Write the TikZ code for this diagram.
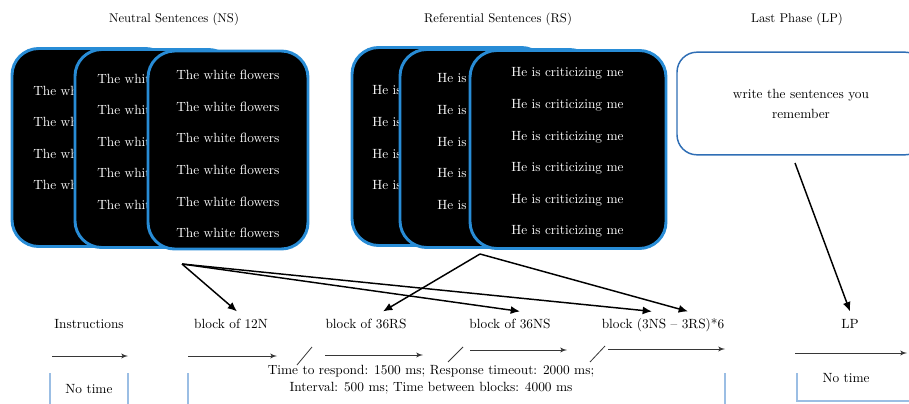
\documentclass[tikz,border=0pt]{standalone}
\usetikzlibrary{shapes,arrows,arrows.meta,positioning}
\definecolor{cardblue}{RGB}{40,140,214}
\definecolor{boxblue}{RGB}{47,110,181}
\definecolor{cellblue}{RGB}{155,190,228}
\definecolor{tlgray}{RGB}{55,55,55}
\newcommand*{\wf}{The white flowers}
\newcommand*{\hc}{He is criticizing me}

\begin{document}
\begin{tikzpicture}[x=0.75pt, y=-0.75pt,
    card_ns/.style ={rectangle, rounded corners=20pt, draw=cardblue, line width=2.2pt, fill=black,
      outer sep=0pt, minimum width=120pt, minimum height=148.5pt},
    card_rs/.style ={card_ns, minimum width=147pt},
    card_lines/.style ={text=white, inner sep=0pt, align=left, font=\fontsize{10pt}{23.7pt}\selectfont},
    block_phase/.style ={rectangle, rounded corners=15pt, draw=boxblue, line width=1.1pt, fill=white,
      minimum width=186pt, minimum height=77pt, align=center, font=\fontsize{10pt}{15pt}\selectfont},
    block_title/.style ={font=\fontsize{9.5pt}{11pt}\selectfont},
    block_step/.style ={font=\normalsize, text height=7pt, text depth=2pt, inner ysep=5.5pt},
    block_cell/.style ={align=center, font=\fontsize{10pt}{12.75pt}\selectfont},
    cell_line/.style ={draw=cellblue, line width=0.8pt},
    break_mark/.style ={draw=tlgray, line width=0.6pt},
    time_line/.style ={draw=tlgray, line width=0.75pt, -latex'},
    line/.style ={draw, line width=1.1pt, -{Latex[length=7pt,width=6pt]}, shorten >=0pt}]
    \useasboundingbox (0,0) rectangle (909,403);
    \clip (0,0) rectangle (909,403);
    % neutral sentences
    \node [block_title] (nstitle) at (174,19) {Neutral Sentences (NS)};
    \node [card_ns] (ns1) at (92,147.5) {};
    \node [card_lines, below right=27.75pt and 15.75pt of ns1.north west] (ns1text) {\wf\\ \wf\\ \wf\\ \wf};
    \node [card_ns] (ns2) at (155,148.5) {};
    \node [card_lines, below right=18pt and 16.5pt of ns2.north west] (ns2text) {\wf\\ \wf\\ \wf\\ \wf\\ \wf};
    \node [card_ns] (ns3) at (228,150) {};
    \node [card_lines, below right=14.25pt and 21pt of ns3.north west] (ns3text) {\wf\\ \wf\\ \wf\\ \wf\\ \wf\\ \wf};
    % referential sentences
    \node [block_title] (rstitle) at (498,19) {Referential Sentences (RS)};
    \node [card_rs] (rs1) at (450,146.5) {};
    \node [card_lines, below right=28.5pt and 15pt of rs1.north west] (rs1text) {\hc\\ \hc\\ \hc\\ \hc};
    \node [card_rs] (rs2) at (498,148.5) {};
    \node [card_lines, below right=18pt and 27.75pt of rs2.north west] (rs2text) {\hc\\ \hc\\ \hc\\ \hc\\ \hc};
    \node [card_rs] (rs3) at (568,149.5) {};
    \node [card_lines, below right=12.75pt and 30.75pt of rs3.north west] (rs3text) {\hc\\ \hc\\ \hc\\ \hc\\ \hc\\ \hc};
    % last phase
    \node [block_title] (lptitle) at (797,19) {Last Phase (LP)};
    \node [block_phase] (lpbox) at (801,103.5) {write the sentences you\\ remember};
    % row of steps
    \node [block_step] (instr) at (89,325) {Instructions};
    \node [block_step] (blk12) at (231,325) {block of 12N};
    \node [block_step] (rs36) at (366,325) {block of 36RS};
    \node [block_step] (ns36) at (510,325) {block of 36NS};
    \node [block_step] (mixed) at (663,325) {block (3NS -- 3RS)*6};
    \node [block_step] (lp) at (850,325) {LP};
    % row of times
    \node [block_cell] (notime1) at (89,389) {No time};
    \node [block_cell] (timing) at (431,380) {Time to respond: 1500 ms; Response timeout: 2000 ms;\\
      Interval: 500 ms; Time between blocks: 4000 ms};
    \node [block_cell] (notime2) at (846,378) {No time};
    \draw [cell_line] (50,373) -- (50,410);
    \draw [cell_line] (128,373) -- (128,410);
    \draw [cell_line] (188,373) -- (188,410);
    \draw [cell_line] (725,373) -- (725,410);
    \draw [cell_line] (797,373) |- (915,401);
    % timeline
    \coordinate (ta1) at (52,356);  \coordinate (tb1) at (128,356);
    \coordinate (ta2) at (188,356); \coordinate (tb2) at (277,356);
    \coordinate (ta3) at (325,355); \coordinate (tb3) at (423,355);
    \coordinate (ta4) at (470,350); \coordinate (tb4) at (567,350);
    \coordinate (ta5) at (608,349); \coordinate (tb5) at (725,349);
    \coordinate (ta6) at (795,353); \coordinate (tb6) at (907,353);
    \draw [break_mark] (297,365) -- (312,347);
    \draw [break_mark] (448,362) -- (463,347);
    \draw [break_mark] (590,362) -- (605,346);
    % sources of the arrows
    \coordinate (nsout) at (182,264);
    \coordinate (rsout) at (480,254);
    \coordinate (lpout) at (795,163);
    % connecting nodes with paths
    \begin{scope}[every path/.style=time_line]
      \path (ta1) -- (tb1);
      \path (ta2) -- (tb2);
      \path (ta3) -- (tb3);
      \path (ta4) -- (tb4);
      \path (ta5) -- (tb5);
      \path (ta6) -- (tb6);
    \end{scope}
    \begin{scope}[every path/.style=line]
      \path (nsout) -- ([xshift=4.5pt]blk12.north);
      \path (nsout) -- ([xshift=7.5pt]ns36.north);
      \path (nsout) -- ([xshift=-8.25pt]mixed.north);
      \path (rsout) -- ([xshift=12.75pt]rs36.north);
      \path (rsout) -- ([xshift=18.75pt]mixed.north);
      \path (lpout) -- (lp.north);
    \end{scope}
  \end{tikzpicture}
\end{document}
